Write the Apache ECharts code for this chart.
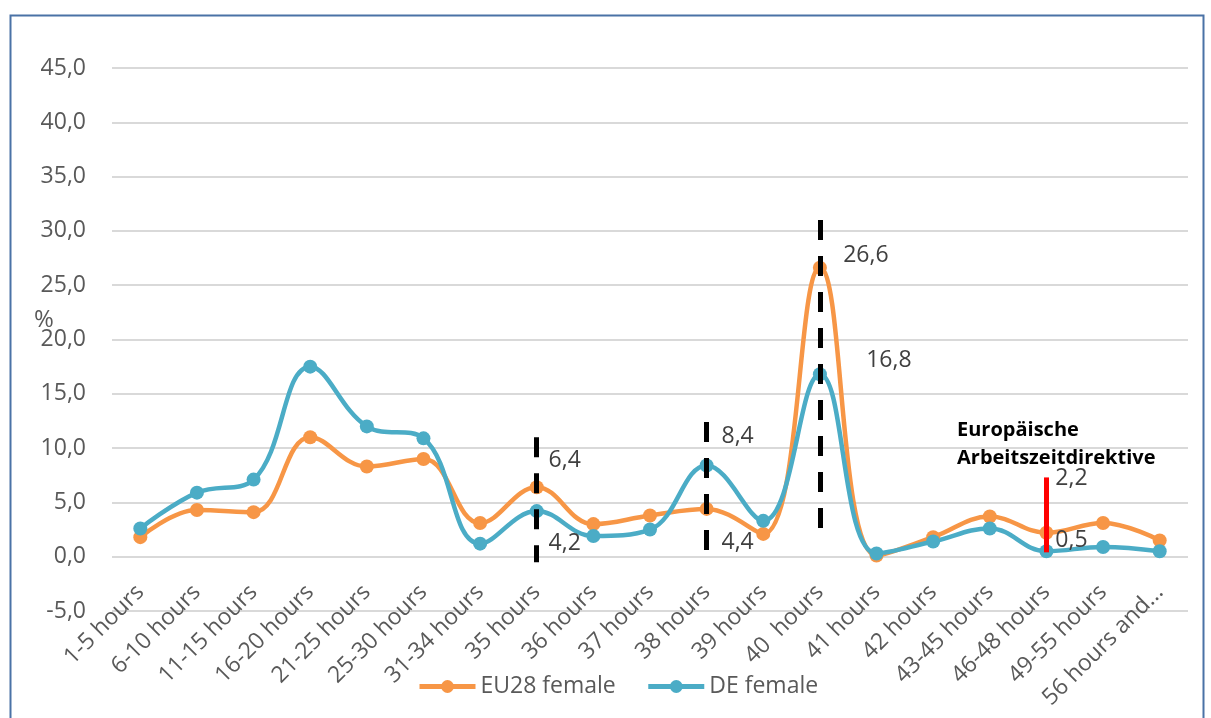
<!DOCTYPE html>
<html>
<head>
<meta charset="utf-8">
<script src="https://cdn.jsdelivr.net/npm/echarts@6/dist/echarts.min.js"></script>
<style>
html,body{margin:0;padding:0;background:#fff;}
#chart{width:1211px;height:718px;}
</style>
</head>
<body>
<div id="chart"></div>
<script>
// ---- data ----
const categories = ['1-5 hours','6-10 hours','11-15 hours','16-20 hours','21-25 hours','25-30 hours','31-34 hours','35 hours','36 hours','37 hours','38 hours','39 hours','40  hours','41 hours','42 hours','43-45 hours','46-48 hours','49-55 hours','56 hours and...'];
const euFemale = [1.8, 4.3, 4.1, 11.0, 8.3, 9.0, 3.1, 6.4, 3.0, 3.8, 4.4, 2.1, 26.6, 0.1, 1.8, 3.7, 2.2, 3.1, 1.5];
const deFemale = [2.6, 5.9, 7.1, 17.5, 12.0, 10.9, 1.2, 4.2, 1.9, 2.5, 8.4, 3.3, 16.8, 0.3, 1.4, 2.6, 0.5, 0.9, 0.5];
const yTicks = [-5, 0, 5, 10, 15, 20, 25, 30, 35, 40, 45];
const dashedCats = ['35 hours', '38 hours', '40  hours'];
const dashedTop = [11.0, 12.4, 31.0];
const dashedBottom = [-0.5, 0.6, 1.6];
const redCat = '46-48 hours';
const redTop = 7.3;
const redBottom = 0.4;
const seriesNames = ['EU28 female', 'DE female'];
const annotationText = 'Europäische\nArbeitszeitdirektive';

// ---- layout of labels (pixel offsets) ----
const euLabelOffsets = {7: [28, -27], 10: [31, 34], 12: [46, -12], 16: [25, -54]};
const deLabelOffsets = {7: [28, 32], 10: [31, -29], 12: [69, -14], 16: [25, -11]};

const fmt = v => Number(v).toFixed(1).replace('.', ',');
const FONT = 'Open Sans';
const FS = 23;

function buildData(values, offsets) {
  return values.map((v, i) => {
    if (offsets[i]) {
      return {
        value: v,
        label: {
          show: true, position: 'inside', offset: offsets[i],
          align: 'center', verticalAlign: 'middle',
          formatter: p => fmt(p.value),
          color: '#404040', fontSize: FS, fontFamily: FONT
        }
      };
    }
    return v;
  });
}

const dashedLines = dashedCats.map((c, i) => [
  {coord: [c, dashedTop[i]]}, {coord: [c, dashedBottom[i]]}
]);

const chart = echarts.init(document.getElementById('chart'), null, {renderer: 'canvas'});
chart.setOption({
  animation: false,
  backgroundColor: '#ffffff',
  textStyle: {fontFamily: FONT},
  grid: {left: 112, right: 23, top: 68, bottom: 107, outerBoundsMode: 'none', containLabel: false},
  legend: {
    data: seriesNames,
    left: 412, top: 670,
    itemWidth: 56, itemHeight: 16, itemGap: 30,
    lineStyle: {width: 5},
    textStyle: {color: '#595959', fontSize: FS, fontFamily: FONT}
  },
  xAxis: {
    type: 'category',
    data: categories,
    boundaryGap: true,
    offset: -54.3,
    axisLine: {show: false, onZero: false},
    axisTick: {show: false},
    axisLabel: {rotate: 45, interval: 0, margin: 32, color: '#595959', fontSize: FS, fontFamily: FONT}
  },
  yAxis: {
    type: 'value',
    min: yTicks[0], max: yTicks[yTicks.length - 1], interval: yTicks[1] - yTicks[0],
    axisLine: {show: false},
    axisTick: {show: false},
    axisLabel: {formatter: fmt, margin: 26, color: '#595959', fontSize: FS, fontFamily: FONT},
    splitLine: {lineStyle: {color: '#D9D9D9', width: 2}}
  },
  series: [
    {
      name: seriesNames[0], type: 'line', smooth: 0.4,
      data: buildData(euFemale, euLabelOffsets),
      symbol: 'circle', symbolSize: 14,
      itemStyle: {color: '#F79646'},
      lineStyle: {color: '#F79646', width: 4.5}
    },
    {
      name: seriesNames[1], type: 'line', smooth: 0.4,
      data: buildData(deFemale, deLabelOffsets),
      symbol: 'circle', symbolSize: 14,
      itemStyle: {color: '#4BACC6'},
      lineStyle: {color: '#4BACC6', width: 4.5},
      markLine: {
        silent: true, symbol: 'none', label: {show: false},
        data: [
          ...dashedLines.map(d => [
            Object.assign({}, d[0], {lineStyle: {color: '#000', width: 5, type: [20, 16]}}),
            d[1]
          ]),
          [
            {coord: [redCat, redTop], lineStyle: {color: '#FF0000', width: 5, type: 'solid'}},
            {coord: [redCat, redBottom]}
          ]
        ]
      }
    }
  ],
  graphic: [
    {type: 'rect', left: 8, top: 13, shape: {width: 1193, height: 720},
     style: {fill: 'none', stroke: '#4A72A6', lineWidth: 2}, silent: true},
    {type: 'text', left: 34, top: 308, style: {text: '%', fill: '#595959', font: '24px "Open Sans"'}},
    {type: 'text', left: 957, top: 416, style: {text: annotationText, fill: '#000', font: 'bold 20px "Open Sans"', lineHeight: 28}}
  ]
});
</script>
</body>
</html>
